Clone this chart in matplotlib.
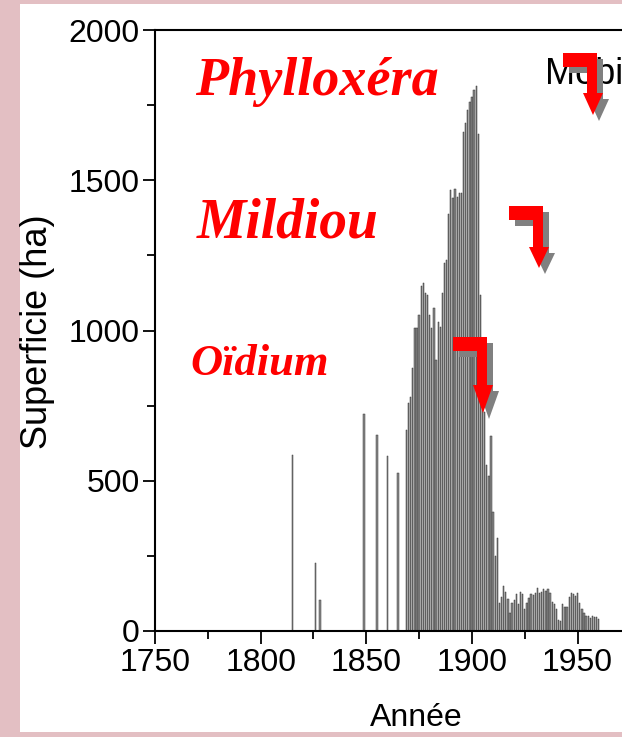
import numpy as np
import matplotlib.pyplot as plt
from matplotlib.patches import Rectangle, Polygon
from matplotlib.ticker import MultipleLocator

# isolated early years
early_years = [1815, 1826, 1828, 1849, 1855, 1860, 1865]
early_area = [585, 225, 103, 722, 652, 583, 526]

# yearly series from 1869 on
years = list(range(1869, 1961))
area = [670, 760, 780, 875, 1008, 1008, 1052, 1148, 1158, 1125,
        1119, 1052, 1008, 1075, 902, 1029, 1012, 1125, 1225, 1234,
        1388, 1468, 1441, 1471, 1445, 1458, 1458, 1661, 1691, 1734,
        1761, 1778, 1801, 1814, 1654, 1119, 950, 730, 553, 516,
        650, 396, 250, 310,
        93, 113, 150, 130, 107, 60, 93, 103, 123, 90,
        130, 123, 73, 93, 110, 123, 120, 126, 143, 126,
        130, 140, 133, 140, 126, 97, 90, 73, 37, 33,
        90, 80, 80, 113, 126, 123, 117, 126, 93, 73,
        60, 50, 50, 43, 50, 47, 45, 40]

W, H = 622, 737
pink = '#e3bfc3'


def fx(x):
     return x / W


def fy(y):
     return 1 - y / H


def bent_arrow(fig, x0, y0, L, head, col, z):
     '''
     red bent arrow, x0,y0 = top left corner in pixels
     '''
     pts = [(0, 0), (34, 0), (34, L), (40, L), (30, L + head), (20, L),
            (24, L), (24, 14), (0, 14)]
     xy = [(fx(x0 + a), fy(y0 + b)) for a, b in pts]
     fig.add_artist(Polygon(xy, closed=True, transform=fig.transFigure,
                            facecolor=col, edgecolor='none', zorder=z))


fig = plt.figure(figsize=[W / 100, H / 100], dpi=100)
fig.patch.set_facecolor(pink)
fig.add_artist(Rectangle((fx(20), fy(732)), fx(602), 728 / H, transform=fig.transFigure,
                         facecolor='white', edgecolor='none', zorder=-10))

ax = fig.add_axes([fx(155), fy(631), fx(W - 155), (631 - 30) / H])
ax.set_facecolor('white')

ax.bar(early_years, early_area, width=0.8, color='#8a8a8a', edgecolor='#3a3a3a', linewidth=0.35)
ax.bar(years, area, width=0.62, color='#8a8a8a', edgecolor='#333333', linewidth=0.35)

ax.set_xlim(1750, 1971)
ax.set_ylim(0, 2000)
ax.xaxis.set_major_locator(MultipleLocator(50))
ax.xaxis.set_minor_locator(MultipleLocator(25))
ax.yaxis.set_major_locator(MultipleLocator(500))
ax.yaxis.set_minor_locator(MultipleLocator(250))
ax.tick_params(which='major', direction='out', length=9, width=1.3, labelsize=23)
ax.tick_params(axis='x', which='major', pad=3)
ax.tick_params(axis='y', which='major', pad=2)
ax.tick_params(which='minor', direction='out', length=6, width=1.3)
for lab in ax.get_xticklabels() + ax.get_yticklabels():
     lab.set_family('Liberation Sans')
ax.spines['right'].set_visible(False)
for s in ['left', 'bottom', 'top']:
     ax.spines[s].set_linewidth(1.5)

fig.text(fx(416), fy(718), 'Année', ha='center', va='center', fontsize=23, family='Liberation Sans')
fig.text(fx(38), fy(332), 'Superficie (ha)', ha='center', va='center', rotation=90,
         fontsize=26, family='Liberation Sans')

# disease labels
red = '#ff0000'
fig.text(fx(195), fy(95), 'Phylloxéra', color=red, fontsize=39, family='Liberation Serif',
         style='italic', weight='bold', va='baseline')
fig.text(fx(197), fy(238), 'Mildiou', color=red, fontsize=40, family='Liberation Serif',
         style='italic', weight='bold', va='baseline')
fig.text(fx(190), fy(375), 'Oïdium', color=red, fontsize=32, family='Liberation Serif',
         style='italic', weight='bold', va='baseline')
fig.text(fx(545), fy(84), 'Mobi', color='black', fontsize=26, family='Liberation Sans',
         va='baseline')

# arrows with grey shadow
for (x0, y0, L, head) in [(563, 53, 40, 22), (509, 206, 41, 21), (453, 337, 48, 28)]:
     bent_arrow(fig, x0 + 6, y0 + 6, L, head, '#808080', 5)
     bent_arrow(fig, x0, y0, L, head, red, 6)

plt.savefig('out.png', dpi=100, facecolor=fig.get_facecolor())
